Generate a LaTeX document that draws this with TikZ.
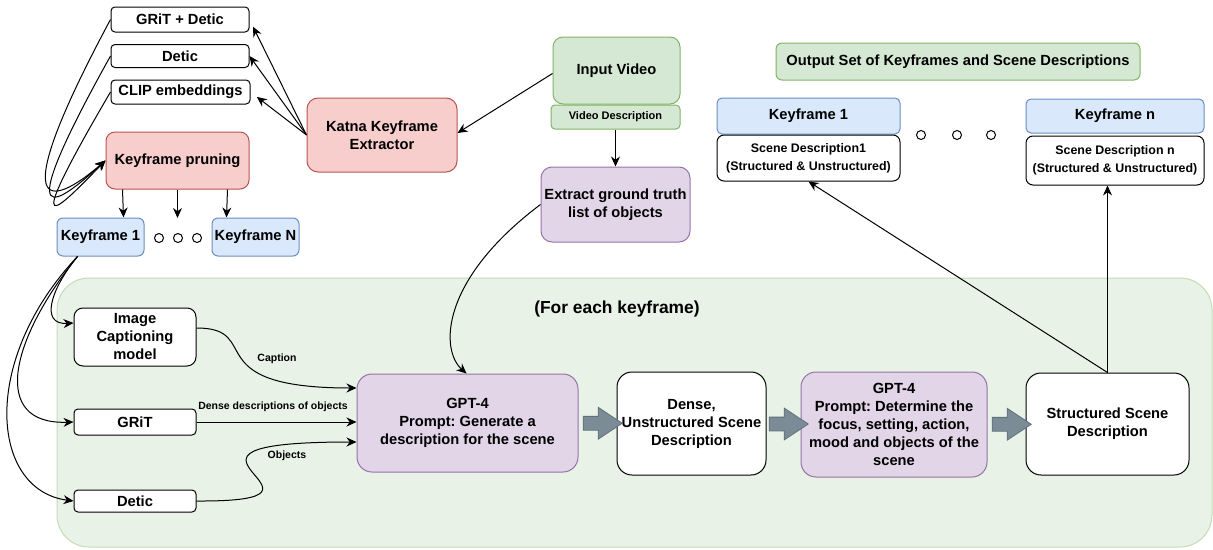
\documentclass[tikz,border=0pt]{standalone}
\usepackage{fontspec}
\setmainfont{Liberation Sans}
\frenchspacing
\usetikzlibrary{positioning, calc, shapes.arrows, arrows.meta}

\definecolor{redfill}{HTML}{F8CECC}
\definecolor{redline}{HTML}{B85450}
\definecolor{greenfill}{HTML}{D5E8D4}
\definecolor{greenline}{HTML}{82B366}
\definecolor{bluefill}{HTML}{DAE8FC}
\definecolor{blueline}{HTML}{6C8EBF}
\definecolor{purplefill}{HTML}{E1D5E7}
\definecolor{purpleline}{HTML}{9673A6}
\definecolor{regionfill}{HTML}{E8F2E7}
\definecolor{regionline}{HTML}{C3DCB4}
\definecolor{arrfill}{HTML}{7B8C97}
\definecolor{arrline}{HTML}{5F707C}

\tikzset{
  box/.style={draw=black, fill=white, line width=1pt, align=center, inner sep=0pt,
    font=\bfseries\fontsize{14.7}{18}\selectfont},
  redbox/.style={box, fill=redfill, draw=redline},
  greenbox/.style={box, fill=greenfill, draw=greenline},
  bluebox/.style={box, fill=bluefill, draw=blueline},
  purplebox/.style={box, fill=purplefill, draw=purpleline},
  descbox/.style={box, font=\bfseries\fontsize{12.4}{18}\selectfont},
  edgelabel/.style={font=\bfseries\fontsize{10.5}{12}\selectfont},
  blockarrow/.style={single arrow, draw=arrline, fill=arrfill, line width=0.8pt,
    inner xsep=0pt, inner ysep=6.5pt, single arrow head extend=9pt,
    single arrow tip angle=67, minimum height=39pt},
  region/.style={draw=regionline, fill=regionfill, line width=1pt, rounded corners=32pt}
}

\begin{document}
\begin{tikzpicture}[x=1pt, y=-1pt, >={Stealth[length=10pt,width=9pt]}, line width=1pt]
    \useasboundingbox (0,0) rectangle (1213,549);
    % per-keyframe area
    \draw[region] (57,278) rectangle (1212,547);
    \node at (617,309) {\bfseries\fontsize{17.4}{20}\selectfont (For each keyframe)};

    % keyframe extraction
    \node[box, minimum width=138pt, minimum height=25pt, rounded corners=4pt] (gritdetic) at (180,19.5) {GRiT + Detic};
    \node[box, minimum width=138pt, minimum height=23pt, rounded corners=4pt] (deticA) at (180,56) {Detic};
    \node[box, minimum width=139pt, minimum height=24pt, rounded corners=4pt] (clip) at (180.5,92) {CLIP embeddings};
    \node[redbox, minimum width=143pt, minimum height=57pt, rounded corners=9pt] (pruning) at (177.5,160.5) {Keyframe pruning};
    \node[bluebox, minimum width=87pt, minimum height=38pt, rounded corners=6pt] (kfA1) at (100.5,237) {Keyframe 1};
    \node[bluebox, minimum width=87pt, minimum height=38pt, rounded corners=6pt] (kfAN) at (255.5,237) {Keyframe N};
    \coordinate (kfmid) at (177.5,218);
    \draw[fill=white] (159,238) circle (4.5pt) (178,238) circle (4.5pt) (197,238) circle (4.5pt);
    \node[redbox, minimum width=150pt, minimum height=74pt, rounded corners=11pt] (katna) at (382,135) {Katna Keyframe\\Extractor};
    \node[greenbox, minimum width=127pt, minimum height=67pt, rounded corners=10pt] (invideo) at (616.5,70.5) {Input Video};
    \node[greenbox, minimum width=129pt, minimum height=24pt, rounded corners=4pt,
          font=\bfseries\fontsize{11}{13}\selectfont] (viddesc) at (615.5,117) {Video Description};
    \node[purplebox, minimum width=149pt, minimum height=75pt, rounded corners=11pt] (extract) at (615.5,204.5) {Extract ground truth\\list of objects};

    % output
    \node[greenbox, minimum width=364pt, minimum height=37pt, rounded corners=6pt] (outset) at (958,61.5) {Output Set of Keyframes and Scene Descriptions};
    \node[bluebox, minimum width=183pt, minimum height=36pt, rounded corners=5pt] (kfB1) at (808.5,116) {Keyframe 1};
    \node[descbox, minimum width=183pt, minimum height=46pt, rounded corners=7pt] (sdB1) at (808.5,158) {Scene Description1\\(Structured \& Unstructured)};
    \node[bluebox, minimum width=178pt, minimum height=34pt, rounded corners=5pt] (kfBn) at (1115,116) {Keyframe n};
    \node[descbox, minimum width=178pt, minimum height=49pt, rounded corners=7pt] (sdBn) at (1115,160.5) {Scene Description n\\(Structured \& Unstructured)};
    \draw[fill=white] (921,135) circle (4.5pt) (957,135) circle (4.5pt) (991,135) circle (4.5pt);

    % per-keyframe models
    \node[box, minimum width=122pt, minimum height=58pt, rounded corners=9pt] (capmodel) at (135,337) {Image\\Captioning\\model};
    \node[box, minimum width=122pt, minimum height=26pt, rounded corners=4pt] (grit) at (135,422) {GRiT};
    \node[box, minimum width=122pt, minimum height=22pt, rounded corners=4pt] (deticB) at (135,501) {Detic};
    \node[purplebox, minimum width=221pt, minimum height=98pt, rounded corners=15pt] (gptA) at (467.5,423) {GPT-4\\Prompt: Generate a\\description for the scene};
    \node[box, minimum width=149pt, minimum height=103pt, rounded corners=15pt] (dense) at (691.5,423.5) {Dense,\\Unstructured Scene\\Description};
    \node[purplebox, minimum width=186pt, minimum height=105pt, rounded corners=15pt] (gptB) at (894,424.5) {GPT-4\\Prompt: Determine the\\focus, setting, action,\\mood and objects of the\\scene};
    \node[box, minimum width=163pt, minimum height=102pt, rounded corners=15pt] (structured) at (1107.5,424) {Structured Scene\\Description};
    \node[blockarrow] (baA) at ($(gptA.east)!0.5!(dense.west)$) {};
    \node[blockarrow] (baB) at ($(dense.east)!0.5!(gptB.west)$) {};
    \node[blockarrow] (baC) at ($(gptB.east)!0.5!(structured.west)$) {};

    % connectors
    \draw[->, shorten >=8pt] (katna.west) -- (gritdetic.east);
    \draw[->] (katna.west) -- (deticA.east);
    \draw[->, shorten >=8pt] (katna.west) -- (clip.east);
    \draw[->] (gritdetic.west) .. controls (-5,235) and (60,200) .. (pruning.west);
    \draw[->] (deticA.west) .. controls (5,245) and (60,202) .. (pruning.west);
    \draw[->] (clip.west) .. controls (15,255) and (60,207) .. (pruning.west);
    \draw[->] ([xshift=17pt]pruning.south west) -- ([xshift=-21pt]kfA1.north east);
    \draw[->] (pruning.south) -- (kfmid);
    \draw[->] ([xshift=-22pt]pruning.south east) -- ([xshift=15pt]kfAN.north west);
    \draw[->] ([yshift=-3pt]invideo.west) -- ([yshift=2pt]katna.east);
    \draw[->] (viddesc.south) -- (extract.north);
    \draw[->] ([xshift=21pt]kfA1.south west) .. controls (50,290) and (40,325) .. ([yshift=14pt]capmodel.west);
    \draw[->] ([xshift=21pt]kfA1.south west) .. controls (10,340) and (-10,425) .. (grit.west);
    \draw[->] ([xshift=21pt]kfA1.south west) .. controls (-20,360) and (-10,490) .. (deticB.west);
    \draw[->] ([yshift=9pt]capmodel.east) .. controls (265,328) and (195,388) .. ([yshift=35pt]gptA.west);
    \draw[->] (grit.east) -- (grit.east -| gptA.west);
    \draw[->] (deticB.east) .. controls (370,502) and (120,442) .. ([yshift=-19pt]gptA.west);
    \draw[->] (extract.west) .. controls (440,280) and (440,350) .. ([xshift=-1pt]gptA.north);
    \draw[->] (structured.north) -- (sdB1.south);
    \draw[->] (structured.north) -- (structured.north |- sdBn.south);
    \node[edgelabel] (caplabel) at (277,359) {Caption};
    \node[edgelabel] (gritlabel) at (273,407) {Dense descriptions of objects};
    \node[edgelabel] (objlabel) at (287,456) {Objects};
\end{tikzpicture}
\end{document}
